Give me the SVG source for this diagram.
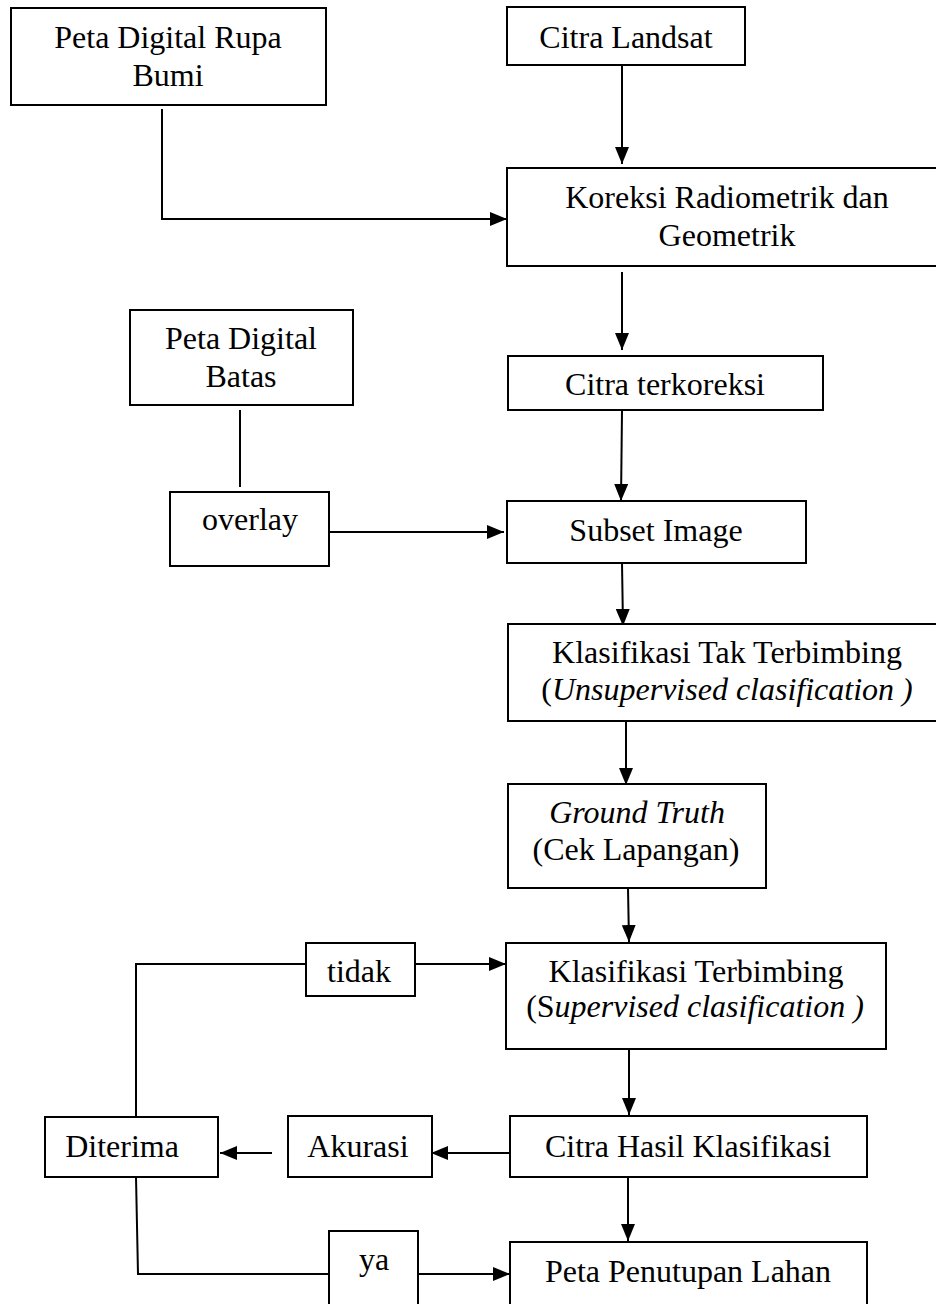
<svg xmlns="http://www.w3.org/2000/svg" width="936" height="1304" viewBox="0 0 936 1304">
<style>
.box{fill:#fff;stroke:#000;stroke-width:2}
.t{font-family:"Liberation Serif","Times New Roman",serif;font-size:32px;fill:#000;text-anchor:middle}
.i{font-style:italic}
.c{fill:none;stroke:#000;stroke-width:2}
</style>
<defs>
<marker id="ah" markerUnits="userSpaceOnUse" markerWidth="17" markerHeight="14" refX="17" refY="7" orient="auto" viewBox="0 0 17 14">
<path d="M0,0 L17,7 L0,14 z" fill="#000"/>
</marker>
</defs>
<rect width="936" height="1304" fill="#fff"/>
<g id="connectors">
<path class="c" d="M162,109 V219 H507" marker-end="url(#ah)"/>
<path class="c" d="M622,65 V164" marker-end="url(#ah)"/>
<path class="c" d="M622,272 V350" marker-end="url(#ah)"/>
<path class="c" d="M622,411 L621,501" marker-end="url(#ah)"/>
<path class="c" d="M240,410 V487"/>
<path class="c" d="M329,532 H504" marker-end="url(#ah)"/>
<path class="c" d="M622,563 L623,626" marker-end="url(#ah)"/>
<path class="c" d="M626,722 V785" marker-end="url(#ah)"/>
<path class="c" d="M628,888 L629,942" marker-end="url(#ah)"/>
<path class="c" d="M415,964 H506" marker-end="url(#ah)"/>
<path class="c" d="M136,1117 V964 H306"/>
<path class="c" d="M629,1049 V1115" marker-end="url(#ah)"/>
<path class="c" d="M510,1153 H431" marker-end="url(#ah)"/>
<path class="c" d="M272,1153 H220" marker-end="url(#ah)"/>
<path class="c" d="M628,1175 V1241" marker-end="url(#ah)"/>
<path class="c" d="M136,1177 L138,1274 H329"/>
<path class="c" d="M418,1274 H510" marker-end="url(#ah)"/>
</g>
<g id="n-rupabumi">
<rect class="box" x="11" y="8" width="315" height="97"/>
<text class="t" x="168" y="48">Peta Digital Rupa</text>
<text class="t" x="168" y="86">Bumi</text>
</g>
<g id="n-landsat">
<rect class="box" x="507" y="7" width="238" height="58"/>
<text class="t" x="626" y="48">Citra Landsat</text>
</g>
<g id="n-koreksi">
<rect class="box" x="507" y="168" width="440" height="98"/>
<text class="t" x="727" y="208">Koreksi Radiometrik dan</text>
<text class="t" x="727" y="246">Geometrik</text>
</g>
<g id="n-batas">
<rect class="box" x="130" y="310" width="223" height="95"/>
<text class="t" x="241" y="349">Peta Digital</text>
<text class="t" x="241" y="387">Batas</text>
</g>
<g id="n-terkoreksi">
<rect class="box" x="508" y="356" width="315" height="54"/>
<text class="t" x="665" y="395">Citra terkoreksi</text>
</g>
<g id="n-overlay">
<rect class="box" x="170" y="492" width="159" height="74"/>
<text class="t" x="250" y="530">overlay</text>
</g>
<g id="n-subset">
<rect class="box" x="507" y="501" width="299" height="62"/>
<text class="t" x="656" y="541">Subset Image</text>
</g>
<g id="n-unsupervised">
<rect class="box" x="508" y="624" width="440" height="97"/>
<text class="t" x="727" y="663">Klasifikasi Tak Terbimbing</text>
<text class="t" x="727" y="700">(<tspan class="i">Unsupervised clasification )</tspan></text>
</g>
<g id="n-groundtruth">
<rect class="box" x="508" y="784" width="258" height="104"/>
<text class="t i" x="637" y="823">Ground Truth</text>
<text class="t" x="636" y="860">(Cek Lapangan)</text>
</g>
<g id="n-tidak">
<rect class="box" x="306" y="943" width="109" height="53"/>
<text class="t" x="359" y="982">tidak</text>
</g>
<g id="n-supervised">
<rect class="box" x="506" y="943" width="380" height="106"/>
<text class="t" x="696" y="982">Klasifikasi Terbimbing</text>
<text class="t" x="695" y="1017">(S<tspan class="i">upervised clasification )</tspan></text>
</g>
<g id="n-diterima">
<rect class="box" x="45" y="1117" width="173" height="60"/>
<text class="t" x="122" y="1157">Diterima</text>
</g>
<g id="n-akurasi">
<rect class="box" x="288" y="1116" width="144" height="61"/>
<text class="t" x="358" y="1157">Akurasi</text>
</g>
<g id="n-hasil">
<rect class="box" x="510" y="1116" width="357" height="61"/>
<text class="t" x="688" y="1157">Citra Hasil Klasifikasi</text>
</g>
<g id="n-ya">
<rect class="box" x="329" y="1231" width="89" height="90"/>
<text class="t" x="374" y="1270">ya</text>
</g>
<g id="n-penutupan">
<rect class="box" x="510" y="1242" width="357" height="80"/>
<text class="t" x="688" y="1282">Peta Penutupan Lahan</text>
</g>
</svg>
